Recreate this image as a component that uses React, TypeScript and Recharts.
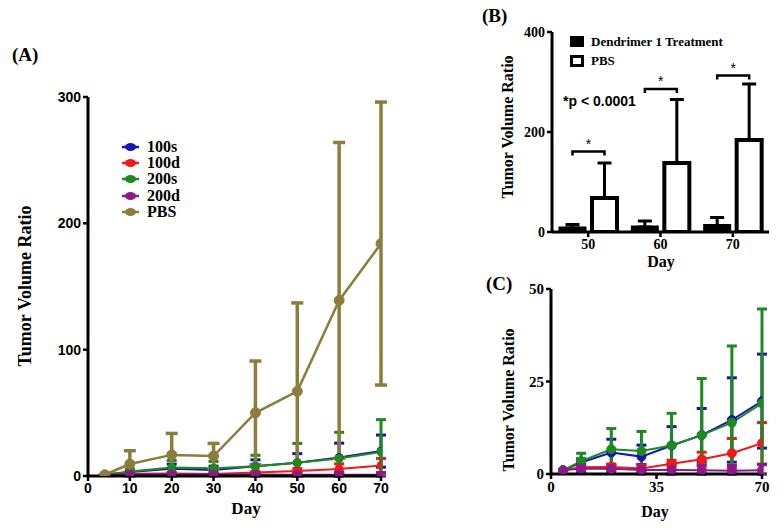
import React from 'react';
import {
  LineChart,
  Line,
  BarChart,
  Bar,
  XAxis,
  YAxis,
  ErrorBar,
  Legend,
  LabelList,
} from 'recharts';

// panel A / C: days and group means ± SD
const days = [4, 10, 20, 30, 40, 50, 60, 70];
const mean100s = [1, 3.1, 5.8, 4.7, 7.7, 10.5, 14.6, 19.7];
const sd100s = [0, 1, 3.6, 3.1, 5.1, 7.2, 11.4, 12.7];
const mean100d = [1, 1.8, 1.9, 1.5, 2.8, 4.0, 5.6, 8.3];
const sd100d = [0, 0.7, 0.8, 1.0, 0.9, 1.9, 4.0, 5.6];
const mean200s = [1, 3.5, 6.7, 6.2, 7.7, 10.5, 13.9, 19.1];
const sd200s = [0, 2.1, 5.6, 5.3, 8.7, 15.3, 20.7, 25.5];
const mean200d = [1, 1.5, 1.4, 1.1, 1.1, 1.0, 0.9, 1.0];
const sd200d = [0, 1.0, 1.0, 1.5, 1.6, 1.5, 1.4, 1.5];
const meanPBS = [1, 9.5, 16.7, 15.8, 50, 67, 139, 184];
const sdPBS = [0, 10.5, 17, 10, 41, 70, 125, 112];

// panel B: days 50/60/70
const barDays = ['50', '60', '70'];
const dendMean = [8, 10, 13];
const dendSd = [7, 12, 16];
const pbsBarMean = [68, 138, 184];
const pbsBarSd = [70, 127, 112];
const bracketLevel = [161, 286, 313];

const ticksA = [0, 10, 20, 30, 40, 50, 60, 70];
const ticksAY = [0, 100, 200, 300];
const ticksCX = [0, 35, 70];
const ticksCY = [0, 25, 50];
const ticksBY = [0, 200, 400];

const legendOrder = ['100s', '100d', '200s', '200d', 'PBS'];

const C100S = '#1515b5';
const C100D = '#f01818';
const C200S = '#1c8a1c';
const C200D = '#8a1a8a';
const CPBS = '#8c7d3c';

const serif = "'Liberation Serif', 'Times New Roman', serif";
const sans = "'Liberation Sans', Arial, sans-serif";

const BAR_SIZE = 25;
const BAR_GAP = 7;

// error bars stop at the x axis (no negative volumes)
const err = (m: number, sd: number) => [Math.min(sd, m), sd];

const lineData = days.map((d, i) => ({
  day: d,
  s100: mean100s[i],
  s100e: err(mean100s[i], sd100s[i]),
  d100: mean100d[i],
  d100e: err(mean100d[i], sd100d[i]),
  s200: mean200s[i],
  s200e: err(mean200s[i], sd200s[i]),
  d200: mean200d[i],
  d200e: err(mean200d[i], sd200d[i]),
  pbs: meanPBS[i],
  pbse: err(meanPBS[i], sdPBS[i]),
}));

const barData = barDays.map((d, i) => ({
  day: d,
  dend: dendMean[i],
  dendErr: [0, dendSd[i]],
  pbs: pbsBarMean[i],
  pbsErr: [0, pbsBarSd[i]],
}));

const axisLine = { stroke: '#000', strokeWidth: 3 };
const tickLine = { stroke: '#000', strokeWidth: 2.5 };

const LegendA = ({ payload }: any) => {
  const items = [...(payload || [])].sort(
    (a: any, b: any) => legendOrder.indexOf(a.value) - legendOrder.indexOf(b.value),
  );
  return (
    <div style={{ fontFamily: serif, fontWeight: 'bold', fontSize: 16 }}>
      {items.map((p: any) => (
        <div
          key={p.value}
          style={{ display: 'flex', alignItems: 'center', height: 16.2 }}
        >
          <svg width={17} height={10} style={{ marginRight: 8 }}>
            <line x1={0} y1={5} x2={17} y2={5} stroke={p.color} strokeWidth={2.5} />
            <ellipse cx={8.5} cy={5} rx={5.5} ry={4} fill={p.color} />
          </svg>
          <span style={{ lineHeight: '16px' }}>{p.value}</span>
        </div>
      ))}
    </div>
  );
};

const LegendB = ({ payload }: any) => {
  const items = [...(payload || [])].sort((a: any) => (a.value === 'PBS' ? 1 : -1));
  return (
    <div style={{ fontFamily: serif, fontWeight: 'bold', fontSize: 13 }}>
      {items.map((p: any) => {
        const solid = p.value !== 'PBS';
        return (
          <div
            key={p.value}
            style={{ display: 'flex', alignItems: 'center', height: 19 }}
          >
            <div
              style={{
                width: solid ? 14 : 8,
                height: solid ? 11 : 6,
                background: solid ? '#000' : '#fff',
                border: solid ? 'none' : '3px solid #000',
                marginRight: 7,
              }}
            />
            <span>{p.value}</span>
          </div>
        );
      })}
    </div>
  );
};

// significance bracket drawn from the PBS bar geometry
const Bracket = (props: any) => {
  const vb = props.viewBox || props;
  const { value, index } = props;
  if (!vb || !value) return null;
  const base = vb.y + vb.height;
  const perUnit = vb.height / value;
  const yb = base - bracketLevel[index] * perUnit;
  const x2 = vb.x + vb.width / 2;
  const x1 = x2 - (BAR_SIZE + BAR_GAP);
  return (
    <g>
      <path
        d={`M${x1},${yb + 4} L${x1},${yb} L${x2},${yb} L${x2},${yb + 4}`}
        fill="none"
        stroke="#000"
        strokeWidth={2.5}
      />
      <text
        x={(x1 + x2) / 2}
        y={yb - 3}
        textAnchor="middle"
        fontFamily={sans}
        fontSize={14}
        fill="#000"
      >
        *
      </text>
    </g>
  );
};

const series = [
  { key: 's100', err: 's100e', name: '100s', color: C100S },
  { key: 'd100', err: 'd100e', name: '100d', color: C100D },
  { key: 's200', err: 's200e', name: '200s', color: C200S },
  { key: 'd200', err: 'd200e', name: '200d', color: C200D },
];

const App: React.FC = () => {
  const tickA = { fill: '#000', fontSize: 14, fontWeight: 'bold', fontFamily: sans };
  const tickSerif = { fill: '#000', fontSize: 15, fontWeight: 'bold', fontFamily: serif };
  const titleStyle = { fontFamily: serif, fontWeight: 'bold' as const, fill: '#000' };

  return (
    <div
      style={{
        position: 'absolute',
        left: 0,
        top: 0,
        width: 784,
        height: 530,
        background: '#fff',
        overflow: 'hidden',
      }}
    >
      {/* Panel A */}
      <div style={{ position: 'absolute', left: 0, top: 0 }}>
        <LineChart
          width={400}
          height={530}
          data={lineData}
          margin={{ top: 97, right: 19, left: 48, bottom: 24 }}
        >
          <XAxis
            type="number"
            dataKey="day"
            domain={[0, 70]}
            ticks={ticksA}
            allowDataOverflow
            height={30}
            tickSize={5}
            axisLine={axisLine}
            tickLine={tickLine}
            tick={tickA}
          />
          <YAxis
            domain={[0, 300]}
            ticks={ticksAY}
            allowDataOverflow
            width={40}
            tickSize={5}
            axisLine={axisLine}
            tickLine={tickLine}
            tick={tickA}
          />
          <Legend
            content={<LegendA />}
            layout="vertical"
            align="center"
            verticalAlign="middle"
            wrapperStyle={{ left: 122, top: 139, width: 'auto' }}
          />
          {series.map((s) => (
            <Line
              key={s.key}
              dataKey={s.key}
              name={s.name}
              stroke={s.color}
              strokeWidth={2}
              dot={{ r: 4, fill: s.color, stroke: s.color, strokeWidth: 1 }}
              isAnimationActive={false}
            >
              <ErrorBar dataKey={s.err} direction="y" width={5} strokeWidth={3} stroke={s.color} />
            </Line>
          ))}
          <Line
            dataKey="pbs"
            name="PBS"
            stroke={CPBS}
            strokeWidth={2.5}
            dot={{ r: 5, fill: CPBS, stroke: CPBS, strokeWidth: 1 }}
            isAnimationActive={false}
          >
            <ErrorBar dataKey="pbse" direction="y" width={6} strokeWidth={3.5} stroke={CPBS} />
          </Line>
        </LineChart>
      </div>

      {/* Panel B */}
      <div style={{ position: 'absolute', left: 480, top: 0 }}>
        <BarChart
          width={304}
          height={280}
          data={barData}
          margin={{ top: 32, right: 15, left: 32, bottom: 18 }}
          barSize={BAR_SIZE}
          barGap={BAR_GAP}
        >
          <XAxis
            dataKey="day"
            height={30}
            tickSize={5}
            axisLine={axisLine}
            tickLine={tickLine}
            tick={{ ...tickSerif, fontSize: 14 }}
          />
          <YAxis
            domain={[0, 400]}
            ticks={ticksBY}
            allowDataOverflow
            width={40}
            tickSize={5}
            axisLine={axisLine}
            tickLine={tickLine}
            tick={{ ...tickSerif, fontSize: 14 }}
          />
          <Legend
            content={<LegendB />}
            layout="vertical"
            align="center"
            verticalAlign="middle"
            wrapperStyle={{ left: 90, top: 32, width: 'auto' }}
          />
          <Bar
            dataKey="dend"
            name="Dendrimer 1 Treatment"
            fill="#000"
            stroke="#000"
            strokeWidth={3}
            isAnimationActive={false}
          >
            <ErrorBar dataKey="dendErr" direction="y" width={7} strokeWidth={3} stroke="#000" />
          </Bar>
          <Bar
            dataKey="pbs"
            name="PBS"
            fill="#fff"
            stroke="#000"
            strokeWidth={4}
            isAnimationActive={false}
          >
            <ErrorBar dataKey="pbsErr" direction="y" width={7} strokeWidth={3} stroke="#000" />
            <LabelList dataKey="pbs" content={<Bracket />} />
          </Bar>
        </BarChart>
      </div>

      {/* Panel C */}
      <div style={{ position: 'absolute', left: 480, top: 270 }}>
        <LineChart
          width={304}
          height={260}
          data={lineData}
          margin={{ top: 19, right: 22, left: 31, bottom: 26 }}
        >
          <XAxis
            type="number"
            dataKey="day"
            domain={[0, 70]}
            ticks={ticksCX}
            allowDataOverflow
            height={30}
            tickSize={5}
            axisLine={axisLine}
            tickLine={tickLine}
            tick={tickSerif}
          />
          <YAxis
            domain={[0, 50]}
            ticks={ticksCY}
            allowDataOverflow
            width={40}
            tickSize={5}
            axisLine={axisLine}
            tickLine={tickLine}
            tick={tickSerif}
          />
          {series.map((s) => (
            <Line
              key={s.key}
              dataKey={s.key}
              name={s.name}
              stroke={s.color}
              strokeWidth={2}
              dot={{ r: 4.5, fill: s.color, stroke: s.color, strokeWidth: 1 }}
              isAnimationActive={false}
            >
              <ErrorBar dataKey={s.err} direction="y" width={5} strokeWidth={3} stroke={s.color} />
            </Line>
          ))}
        </LineChart>
      </div>

      {/* titles */}
      <svg
        width={784}
        height={530}
        style={{ position: 'absolute', left: 0, top: 0, pointerEvents: 'none' }}
      >
        <text x={12} y={61} fontSize={19} {...titleStyle}>(A)</text>
        <text x={482} y={22} fontSize={19} {...titleStyle}>(B)</text>
        <text x={486} y={290} fontSize={19} {...titleStyle}>(C)</text>

        <text transform="translate(31,286) rotate(-90)" textAnchor="middle" fontSize={18} {...titleStyle}>
          Tumor Volume Ratio
        </text>
        <text x={246} y={514} textAnchor="middle" fontSize={17} {...titleStyle}>Day</text>

        <text transform="translate(513,127) rotate(-90)" textAnchor="middle" fontSize={16} {...titleStyle}>
          Tumor Volume Ratio
        </text>
        <text x={661} y={267} textAnchor="middle" fontSize={16} {...titleStyle}>Day</text>
        <text x={563} y={106} fontSize={14} fontWeight="bold" fontFamily={sans} fill="#000">
          *p &lt; 0.0001
        </text>

        <text transform="translate(514,400) rotate(-90)" textAnchor="middle" fontSize={16} {...titleStyle}>
          Tumor Volume Ratio
        </text>
        <text x={655} y={517} textAnchor="middle" fontSize={16} {...titleStyle}>Day</text>
      </svg>
    </div>
  );
};

export default App;
